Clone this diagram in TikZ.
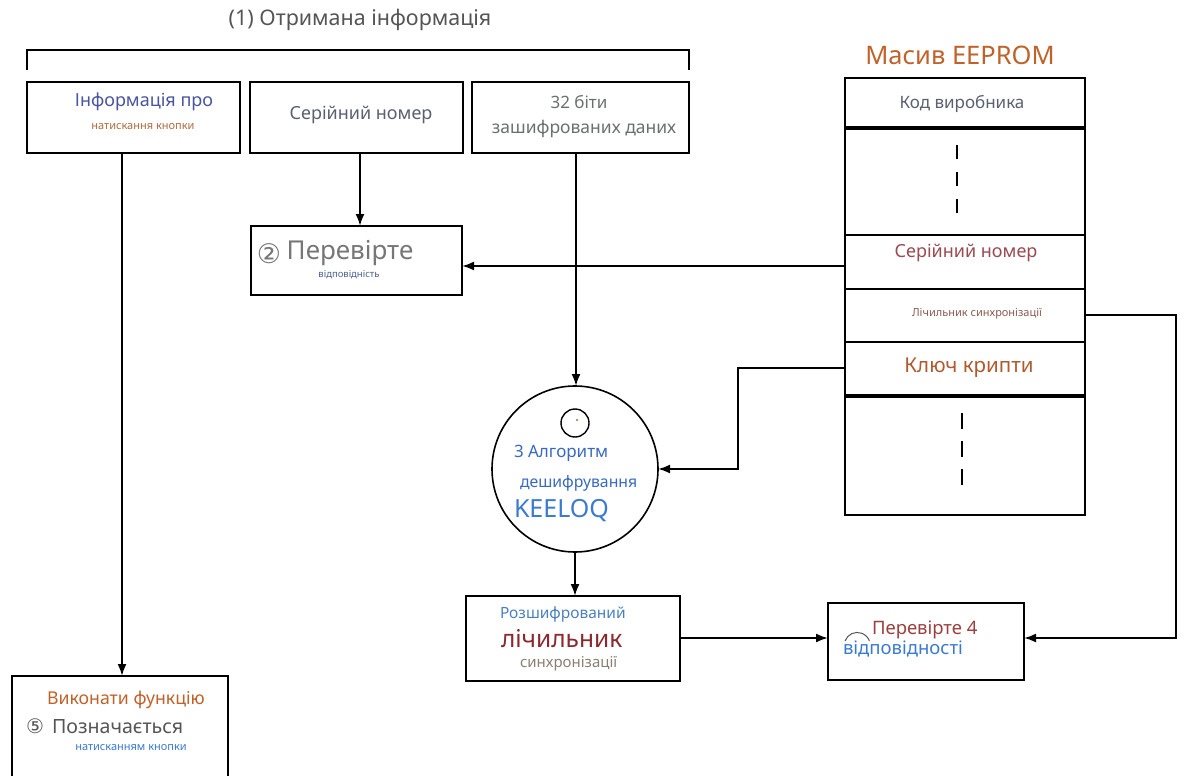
\documentclass[tikz,border=0pt]{standalone}
\usepackage{fontspec}
\setmainfont{Noto Sans}
\newfontfamily\djv{DejaVu Sans}
\usetikzlibrary{arrows.meta,calc}
\definecolor{cgray}{HTML}{555555}
\definecolor{cblue}{HTML}{4A55A0}
\definecolor{cbrown}{HTML}{B06A40}
\definecolor{cslate}{HTML}{5A6070}
\definecolor{cgreyg}{HTML}{6A7070}
\definecolor{corange}{HTML}{C0622A}
\definecolor{cwine}{HTML}{9A4A50}
\definecolor{cbrown2}{HTML}{8A5A50}
\definecolor{crust}{HTML}{B05A30}
\definecolor{cblue2}{HTML}{3A6AC0}
\definecolor{cblue3}{HTML}{3A7AD0}
\definecolor{cblue4}{HTML}{4A80C0}
\definecolor{cdark}{HTML}{8A2A30}
\definecolor{ctaupe}{HTML}{8A8070}
\definecolor{cred}{HTML}{9A4040}
\definecolor{cgray2}{HTML}{777777}
\definecolor{cblue5}{HTML}{4A6090}
\tikzset{
  box/.style={draw=black, line width=2.2pt, inner sep=0pt, outer sep=0pt},
  row/.style={draw=black, line width=2pt, inner sep=0pt, outer sep=0pt, minimum width=240pt},
  arr/.style={line width=2pt, -{Latex[length=12pt,width=9pt]}},
  conn/.style={line width=2pt},
  txt/.style={inner sep=0pt, outer sep=0pt},
  dsh/.style={line width=2pt, dash pattern=on 14pt off 13pt}
}
\begin{document}
\begin{tikzpicture}[x=1pt,y=-1pt]
\useasboundingbox (0,0) rectangle (1197,776);
\fill[white] (0,0) rectangle (1197,776);
% title and bracket
\node[txt, text=cgray, font=\fontsize{21.5}{24}\selectfont] (title) at (360,20) {(1) Отримана інформація};
\draw[conn] (27,70) -- (27,50) -- (689,50) -- (689,70);
% top boxes
\node[box, minimum width=213pt, minimum height=71pt] (b1) at (133.5,117.5) {};
\node[box, minimum width=213pt, minimum height=71pt] (b2) at (356.5,117.5) {};
\node[box, minimum width=217pt, minimum height=71pt] (b3) at (580.5,117.5) {};
\node[txt, text=cblue, font=\fontsize{18}{20}\selectfont] (t1a) at (144,102) {Інформація про};
\node[txt, text=cbrown, font=\fontsize{11}{12}\selectfont] (t1b) at (143,127) {натискання кнопки};
\node[txt, text=cslate, font=\fontsize{18}{20}\selectfont] (t2) at (361,115) {Серійний номер};
\node[txt, text=cgreyg, font=\fontsize{17}{19}\selectfont] (t3a) at (579,102) {32 біти};
\node[txt, text=cgreyg, font=\fontsize{17.5}{19}\selectfont] (t3b) at (584,129) {зашифрованих даних};
% check 2
\node[box, minimum width=211pt, minimum height=69pt] (c2) at (356.5,260.5) {};
\node[txt, text=cgray2, font=\djv\fontsize{27}{29}\selectfont] (c2n) at (269,254) {②};
\node[txt, text=cgray2, font=\fontsize{26}{28}\selectfont] (c2a) at (350,253) {Перевірте};
\node[txt, text=cblue5, font=\fontsize{9.5}{11}\selectfont] (c2b) at (349,275) {відповідність};
% EEPROM
\node[txt, text=corange, font=\fontsize{25.5}{28}\selectfont] (etitle) at (960,55) {Масив EEPROM};
\node[row, minimum height=50pt] (r1) at (965,103) {};
\node[row, minimum height=107pt] (r2) at (965,181.5) {};
\node[row, minimum height=54pt] (r3) at (965,262) {};
\node[row, minimum height=53pt] (r4) at (965,315.5) {};
\node[row, minimum height=54pt] (r5) at (965,369) {};
\node[row, minimum height=119pt] (r6) at (965,455.5) {};
\draw[line width=4pt] (r1.south west) -- (r1.south east);
\draw[line width=4pt] (r5.south west) -- (r5.south east);
\node[txt, text=cslate, font=\fontsize{17}{19}\selectfont] (e1) at (962,104) {Код виробника};
\node[txt, text=cwine, font=\fontsize{18}{20}\selectfont] (e3) at (966,253) {Серійний номер};
\node[txt, text=cbrown2, font=\fontsize{11}{12}\selectfont] (e4) at (977,314) {Лічильник синхронізації};
\node[txt, text=crust, font=\fontsize{20.5}{22}\selectfont] (e5) at (969,368) {Ключ крипти};
\draw[dsh] (957,145) -- (957,219);
\draw[dsh, dash pattern=on 16pt off 12pt] (962,413) -- (962,489);
% algorithm circle
\node[draw=black, line width=1.6pt, circle, minimum size=166pt, inner sep=0pt, outer sep=0pt] (alg) at (575,469) {};
\node[draw=black, line width=1.4pt, circle, minimum size=28pt, inner sep=0pt] (algs) at (575,423) {};
\fill[cbrown] (577,420) circle (1.2pt);
\node[txt, text=cblue2, font=\fontsize{17}{19}\selectfont, anchor=west] (a1) at (514,453) {3 Алгоритм};
\node[txt, text=cblue2, font=\fontsize{15.8}{17}\selectfont, anchor=west] (a2) at (520,483) {дешифрування};
\node[txt, text=cblue3, font=\fontsize{25}{27}\selectfont, anchor=west] (a3) at (514,511) {KEELOQ};
% decrypted counter
\node[box, minimum width=214pt, minimum height=85pt] (dc) at (573,638.5) {};
\node[txt, text=cblue4, font=\fontsize{15.5}{17}\selectfont, anchor=west] (d1) at (500,614) {Розшифрований};
\node[txt, text=cdark, font=\fontsize{24.5}{26}\selectfont, anchor=west] (d2) at (501,639) {лічильник};
\node[txt, text=ctaupe, font=\fontsize{15}{17}\selectfont, anchor=west] (d3) at (520,664) {синхронізації};
% check 4
\node[box, minimum width=196pt, minimum height=77pt] (c4) at (926,641.5) {};
\node[txt, text=cred, font=\fontsize{18.5}{20}\selectfont, anchor=west] (c4a) at (872,630) {Перевірте 4};
\node[txt, text=cblue3, font=\fontsize{18.5}{20}\selectfont, anchor=west] (c4b) at (843,649) {відповідності};
\draw[cgray, line width=1pt] (845,641) arc (160:20:13pt);
% execute function
\node[box, minimum width=216pt, minimum height=104pt] (b5) at (120,728) {};
\node[txt, text=corange, font=\fontsize{17.7}{19}\selectfont] (f1) at (126,700) {Виконати функцію};
\node[txt, text=cgray, font=\djv\fontsize{20}{22}\selectfont] (f2n) at (35,726) {⑤};
\node[txt, text=cgray, font=\fontsize{19.6}{21}\selectfont, anchor=west] (f2) at (52,727) {Позначається};
\node[txt, text=cblue3, font=\fontsize{11}{12}\selectfont] (f3) at (131,748) {натисканням кнопки};
% connectors
\coordinate (x1) at (122,0);
\coordinate (x2) at (360,0);
\coordinate (x3) at (576,0);
\draw[arr] (b1.south -| x1) -- (b5.north -| x1);
\draw[arr] (b2.south -| x2) -- (c2.north -| x2);
\draw[arr] (b3.south -| x3) -- (alg.north -| x3);
\draw[arr] (r3.west |- 0,266) -- (c2.east |- 0,266);
\coordinate (k1) at (738,368);
\draw[arr] (r5.west |- k1) -- (k1) -- (k1 |- alg.east) -- (alg.east);
\coordinate (s1) at (1176,315);
\draw[arr] (r4.east |- s1) -- (s1) -- (s1 |- 0,638) -- (c4.east |- 0,638);
\draw[arr] (alg.south) -- (dc.north -| alg.south);
\draw[arr] (dc.east |- 0,638) -- (c4.west |- 0,638);
\end{tikzpicture}
\end{document}
